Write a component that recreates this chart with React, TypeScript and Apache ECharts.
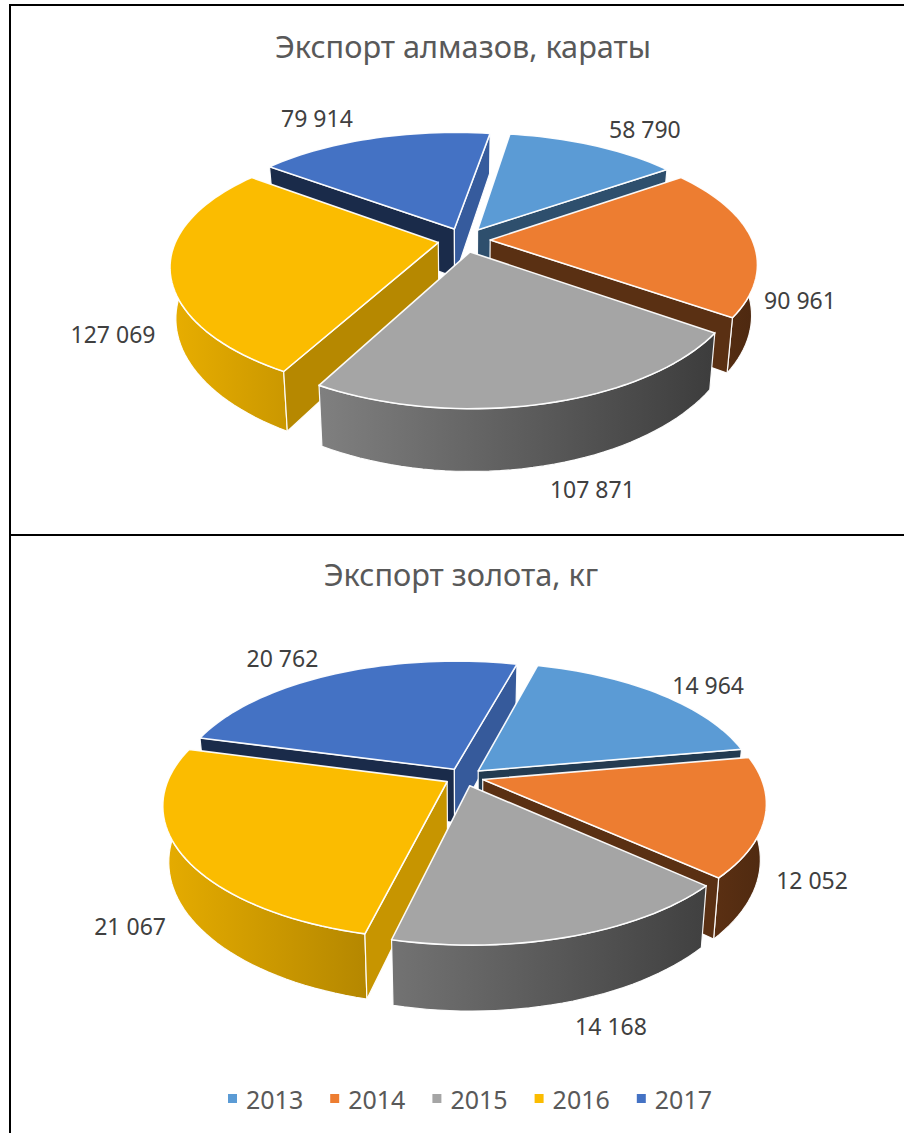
import React, { useEffect, useRef } from "react";
import * as echarts from "echarts";

const YEARS = ["2013", "2014", "2015", "2016", "2017"];
const DIAMOND_EXPORT = [58790, 90961, 107871, 127069, 79914];
const GOLD_EXPORT = [14964, 12052, 14168, 21067, 20762];
const DIAMOND_TITLE = "Экспорт алмазов, караты";
const GOLD_TITLE = "Экспорт золота, кг";

const COLORS = ["#5B9BD5", "#ED7D31", "#A5A5A5", "#FBBC00", "#4472C4"];
const FONT = '"Noto Sans", "Open Sans", sans-serif';

const PIE_DIAMOND = {
  cx: 464, cy: 240, R: 262, k: 0.458, persp: 0.2, perspX: 0.18, taper: 0.98, h: 49,
  startDeg: 9, explode: 0.1, titleX: 458, titleY: 41,
  labelOffsets: [[51, -16], [48, 60], [47, 85], [-57, 65], [-56, -20]],
};
const PIE_GOLD = {
  cx: 464, cy: 777, R: 278, k: 0.464, persp: 0.17, perspX: 0.17, taper: 0.98, h: 54,
  startDeg: 15, explode: 0.07, titleX: 456, titleY: 569,
  labelOffsets: [[49, -9], [47, 63], [41, 89], [-52, 71], [-53, -16]],
};

const rad = (d: number) => (d * Math.PI) / 180;
const fmt = (v: number) => String(v).replace(/\B(?=(\d{3})+$)/g, " ");

function shade(hex: string, f: number) {
  const n = parseInt(hex.slice(1), 16);
  const c = [(n >> 16) & 255, (n >> 8) & 255, n & 255].map((x) => Math.round(x * f));
  return `rgb(${c[0]},${c[1]},${c[2]})`;
}

function project(p: any, X: number, Y: number, bottom: boolean) {
  const w = 1 - p.persp * Y;
  const wx = 1 - p.perspX * Y;
  let sx = p.cx + (p.R * X) / wx;
  let sy = p.cy + (p.R * p.k * Y) / w;
  if (bottom) {
    sx = p.cx + (sx - p.cx) * p.taper;
    sy += p.h / w;
  }
  return [sx, sy];
}

function sliceAngles(values: number[], i: number, start: number) {
  const total = values.reduce((a, b) => a + b, 0);
  const before = values.slice(0, i).reduce((a, b) => a + b, 0);
  const a0 = start + (before / total) * 360;
  const a1 = a0 + (values[i] / total) * 360;
  return { a0, a1, mid: (a0 + a1) / 2 };
}

function area(pts: number[][]) {
  let s = 0;
  for (let i = 0; i < pts.length; i++) {
    const q = pts[(i + 1) % pts.length];
    s += pts[i][0] * q[1] - q[0] * pts[i][1];
  }
  return s;
}

function makeRenderItem(values: number[], p: any, i: number) {
  return (_params: any, api: any) => {
    const value = api.value(0);
    const { a0, a1, mid } = sliceAngles(values, i, p.startDeg);
    const ax = p.explode * Math.sin(rad(mid));
    const ay = -p.explode * Math.cos(rad(mid));
    const rim = (t: number, b: boolean) =>
      project(p, ax + Math.sin(rad(t)), ay - Math.cos(rad(t)), b);
    const n = Math.ceil((a1 - a0) / 2);
    const ts: number[] = [];
    for (let j = 0; j <= n; j++) ts.push(a0 + ((a1 - a0) * j) / n);
    const topArc = ts.map((t) => rim(t, false));
    const botArc = ts.map((t) => rim(t, true));
    const apexT = project(p, ax, ay, false);
    const apexB = project(p, ax, ay, true);
    const color = COLORS[i];
    const stroke = "rgba(255,255,255,0.95)";
    const children: any[] = [];

    // outer curved wall: only the part that faces the viewer
    const front = ts.filter((t) => -Math.cos(rad(t)) > -0.2);
    if (front.length >= 2) {
      children.push({
        type: "polygon",
        shape: {
          points: [
            ...front.map((t) => rim(t, false)),
            ...front.slice().reverse().map((t) => rim(t, true)),
          ],
        },
        style: {
          fill: new echarts.graphic.LinearGradient(
            p.cx - p.R * 1.1, 0, p.cx + p.R * 1.1, 0,
            [
              { offset: 0, color: shade(color, 0.92) },
              { offset: 1, color: shade(color, 0.33) },
            ],
            true
          ),
          stroke,
          lineWidth: 1.2,
        },
      });
    }

    const wallShade = (nx: number) =>
      0.38 + 0.42 * Math.max(0, Math.min(1, (nx - 0.4) / 0.58));
    const quadStart = [apexT, topArc[0], botArc[0], apexB];
    const quadEnd = [apexT, topArc[n], botArc[n], apexB];
    if (area(quadStart) < 0) {
      children.push({
        type: "polygon",
        shape: { points: quadStart },
        style: { fill: shade(color, wallShade(-Math.cos(rad(a0)))), stroke, lineWidth: 1.2 },
      });
    }
    if (area(quadEnd) > 0) {
      children.push({
        type: "polygon",
        shape: { points: quadEnd },
        style: { fill: shade(color, wallShade(Math.cos(rad(a1)))), stroke, lineWidth: 1.2 },
      });
    }
    children.push({
      type: "polygon",
      shape: { points: [apexT, ...topArc] },
      style: { fill: color, stroke, lineWidth: 1.6, lineJoin: "round" },
    });
    const anchor = project(p, ax + Math.sin(rad(mid)), ay - Math.cos(rad(mid)), false);
    const off = p.labelOffsets[i];
    children.push({
      type: "text",
      z2: 50,
      style: {
        text: fmt(value),
        x: anchor[0] + off[0],
        y: anchor[1] + off[1],
        align: "center",
        verticalAlign: "middle",
        fill: "#404040",
        font: `23px ${FONT}`,
      },
    });
    return { type: "group", children };
  };
}

function buildSeries(values: number[], p: any) {
  const rank = values
    .map((_, i) => i)
    .sort(
      (a, b) =>
        Math.cos(rad(sliceAngles(values, b, p.startDeg).mid)) -
        Math.cos(rad(sliceAngles(values, a, p.startDeg).mid))
    );
  return values.map((v, i) => ({
    type: "custom",
    name: YEARS[i],
    coordinateSystem: "none",
    silent: true,
    z: 2 + rank.indexOf(i),
    itemStyle: { color: COLORS[i] },
    data: [[v]],
    renderItem: makeRenderItem(values, p, i),
  }));
}

function frameLine(x1: number, y1: number, x2: number, y2: number) {
  return {
    type: "line",
    shape: { x1, y1, x2, y2 },
    style: { stroke: "#000", lineWidth: 2 },
    silent: true,
  };
}

export default function App() {
  const ref = useRef<HTMLDivElement>(null);
  useEffect(() => {
    document.body.style.margin = "0";
    document.body.style.overflow = "hidden";
    const chart = echarts.init(ref.current!, undefined, { renderer: "svg" });
    chart.setOption({
      animation: false,
      backgroundColor: "#fff",
      title: [
        {
          text: DIAMOND_TITLE,
          left: PIE_DIAMOND.titleX,
          top: PIE_DIAMOND.titleY,
          textAlign: "center",
          textVerticalAlign: "middle",
          textStyle: { fontFamily: FONT, fontSize: 30.7, fontWeight: "normal", color: "#595959" },
        },
        {
          text: GOLD_TITLE,
          left: PIE_GOLD.titleX,
          top: PIE_GOLD.titleY,
          textAlign: "center",
          textVerticalAlign: "middle",
          textStyle: { fontFamily: FONT, fontSize: 30.7, fontWeight: "normal", color: "#595959" },
        },
      ],
      legend: {
        data: YEARS,
        left: 223,
        top: 1081,
        icon: "rect",
        itemWidth: 9,
        itemHeight: 9,
        itemGap: 27,
        selectedMode: false,
        textStyle: { fontFamily: FONT, fontSize: 25, color: "#595959", padding: [0, 0, 0, 4] },
      },
      graphic: {
        elements: [
          frameLine(9, 5, 904, 5),
          frameLine(10, 5, 10, 1133),
          frameLine(9, 535, 904, 535),
        ],
      },
      series: [...buildSeries(DIAMOND_EXPORT, PIE_DIAMOND), ...buildSeries(GOLD_EXPORT, PIE_GOLD)],
    });
    return () => chart.dispose();
  }, []);
  return <div ref={ref} style={{ width: 904, height: 1133 }} />;
}
